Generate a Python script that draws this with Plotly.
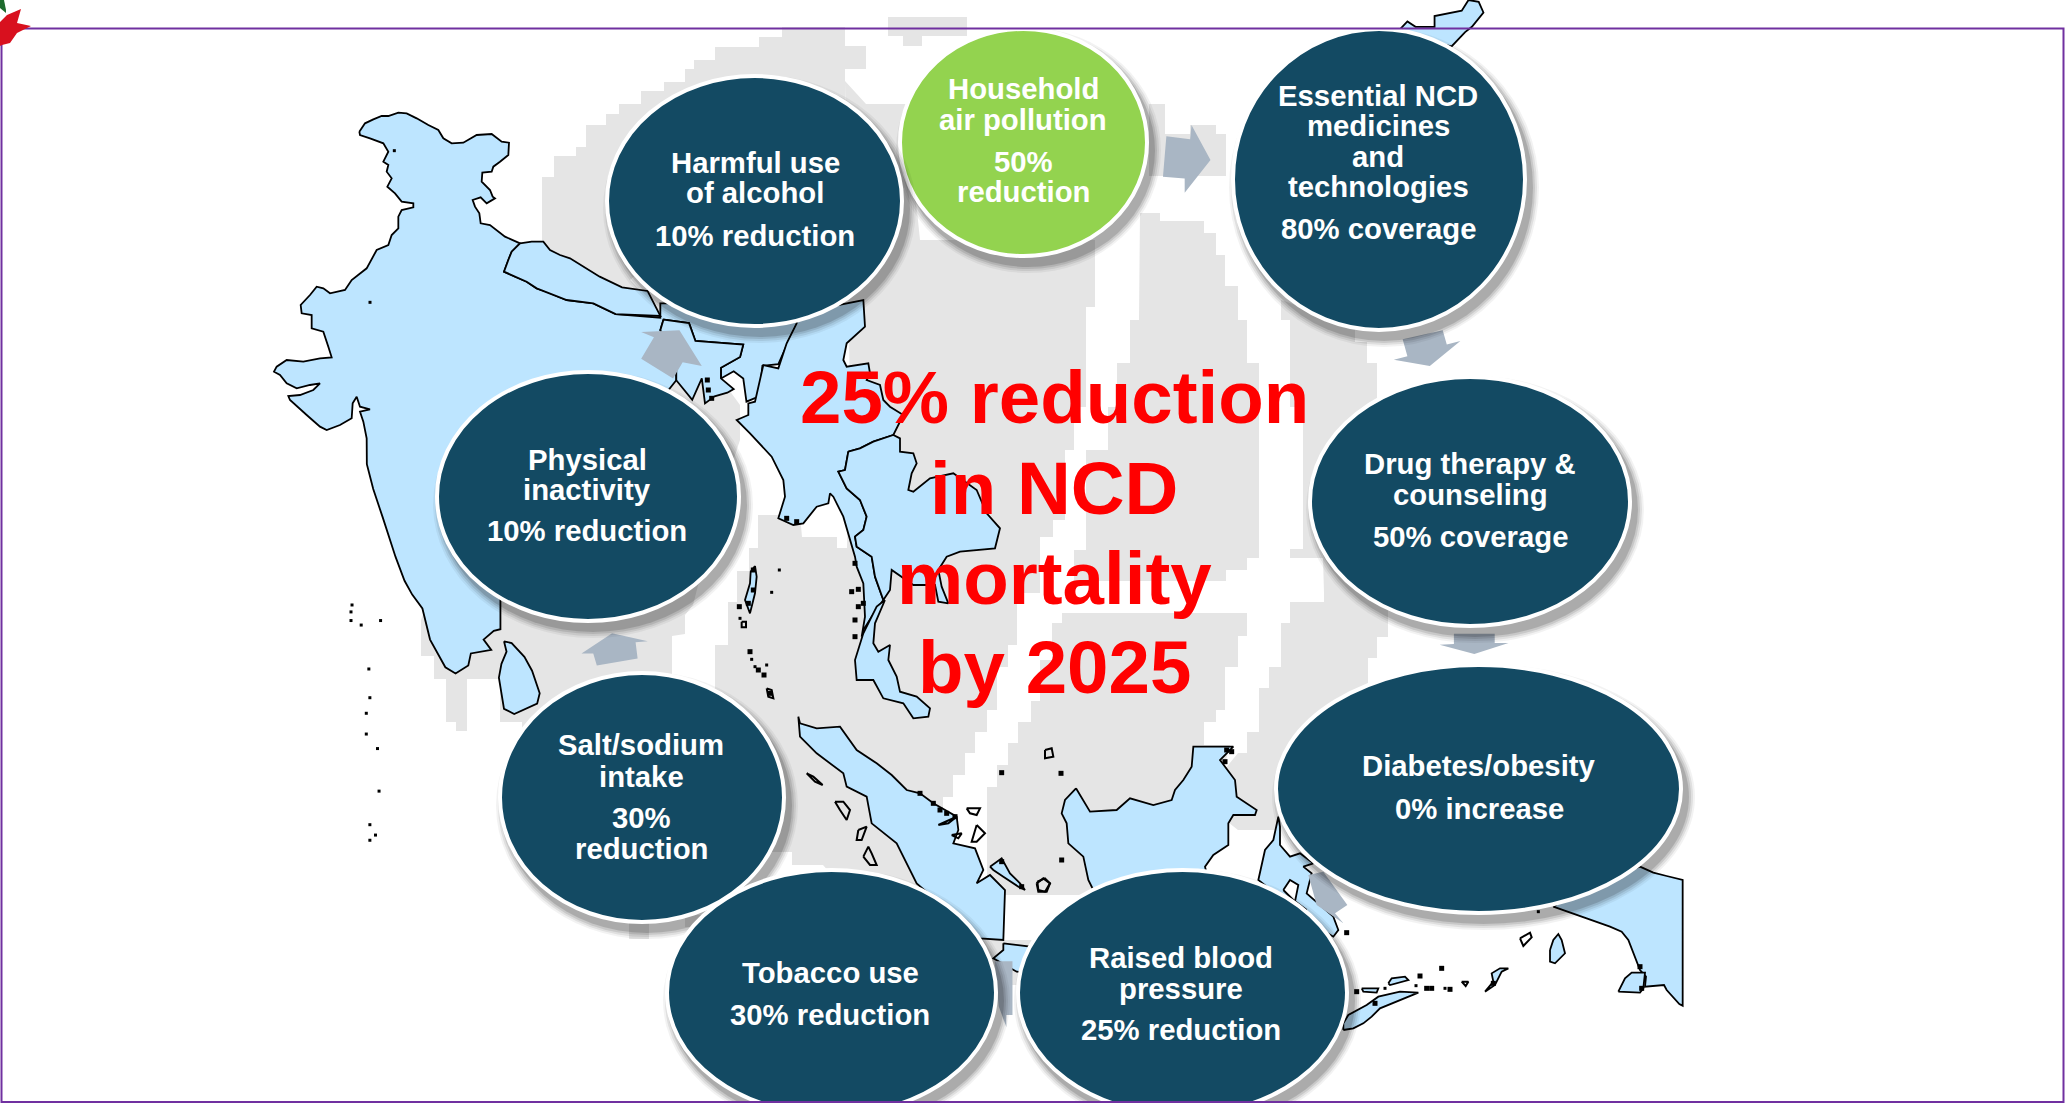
import plotly.graph_objects as go

# ---------- text content ----------
CENTRE_LINES = ["25% reduction", "in NCD", "mortality", "by 2025"]
HARMFUL = ["Harmful use", "of alcohol", "10% reduction"]
PHYSICAL = ["Physical", "inactivity", "10% reduction"]
HOUSEHOLD = ["Household", "air pollution", "50%", "reduction"]
ESSENTIAL = ["Essential NCD", "medicines", "and", "technologies", "80% coverage"]
DRUG = ["Drug therapy &", "counseling", "50% coverage"]
DIABETES = ["Diabetes/obesity", "0% increase"]
SALT = ["Salt/sodium", "intake", "30%", "reduction"]
TOBACCO = ["Tobacco use", "30% reduction"]
RAISED = ["Raised blood", "pressure", "25% reduction"]

# ---------- geometry ----------
# crop frames: (left, top, x scale, y scale) of the zoomed views used to read outlines
Z1 = (0, 0, 0.638, 0.357)
Z2 = (1000, 0, 0.679, 0.357)
Z3 = (300, 560, 0.51, 0.346)
Z4 = (1000, 560, 0.51, 0.346)
Z5 = (700, 300, 1 / 3, 1 / 3)
Z7 = (700, 600, 1 / 3, 1 / 3)
Z8 = (1000, 580, 1 / 3, 1 / 3)
ZI = (270, 110, 1 / 3, 1 / 3)
ZP = (1320, 850, 1 / 3, 1 / 3)
ZA = (720, 540, 1 / 3, 1 / 3)


def read(pts, z):
    return [(z[0] + x * z[2], z[1] + y * z[3]) for x, y in pts]


GREY_AREAS = [
    [(888,17),(967,17),(967,36),(922,36),(922,46),(903,46),(903,36),(888,36)],
    [(782,27),(845,27),(845,46),(866,46),(866,69),(845,69),(845,100),(606,300),(542,255),(542,177),(554,177),(554,156),
     (576,156),(576,147),(586,147),(586,125),(606,125),(606,114),(619,114),(619,104),(641,104),(641,91),(664,91),(664,82),
     (685,82),(685,69),(694,69),(694,60),(715,60),(715,47),(759,47),(759,37),(782,37)],
    [(542,255),(606,255),(606,278),(628,278),(700,350),(740,405),(740,440),(720,500),(693,605),(685,615),(685,634),(672,636),
     (672,700),(522,740),(522,722),(500,722),(500,679),(467,679),(467,731),(456,731),(456,722),(446,722),(446,679),(434,679),
     (434,656),(421,656),(421,620),(500,400)],
    [(845,81),(866,104),(906,104),(920,240),(1095,240),(1095,307),(1086,307),(1086,407),(1074,407),(1074,450),(1065,450),
     (1065,520),(1053,520),(1053,537),(1040,537),(1040,593),(1017,593),(1017,645),(1008,645),(1008,667),(997,667),(997,710),
     (987,710),(987,732),(975,732),(975,753),(965,753),(965,775),(953,775),(953,797),(943,797),(943,830),(960,880),(1004,945),
     (1004,985),(960,985),(880,930),(823,865),(792,865),(792,852),(750,852),(715,700),(715,645),(728,645),(728,602),(737,602),
     (737,571),(749,571),(749,548),(758,548),(758,515),(800,515),(802,537),(837,537),(837,548),(847,548),(850,400)],
    [(1140,213),(1160,213),(1160,221),(1204,221),(1204,233),(1216,233),(1216,255),(1225,255),(1225,286),(1238,286),(1238,320),
     (1247,320),(1247,363),(1259,363),(1259,558),(1247,558),(1247,570),(1226,570),(1226,581),(1074,581),(1074,550),(1086,550),
     (1086,450),(1108,450),(1108,407),(1117,407),(1117,363),(1130,363),(1130,320),(1139,320)],
    [(1281,300),(1355,325),(1355,342),(1367,342),(1367,363),(1377,363),(1377,420),(1400,500),(1388,600),(1388,637),(1377,637),
     (1377,658),(1368,658),(1368,700),(1277,830),(1238,830),(1200,800),(1238,753),(1247,753),(1247,732),(1259,732),(1259,688),
     (1269,688),(1269,667),(1281,667),(1281,623),(1290,623),(1290,602),(1324,602),(1324,593),(1323,558),(1290,558),(1290,549),
     (1303,549),(1303,407),(1290,407),(1290,320),(1281,320)],
    [(1062,613),(1247,613),(1247,636),(1238,636),(1238,667),(1225,667),(1225,710),(1216,710),(1216,722),(1204,722),(1204,745),
     (1230,745),(1190,895),(987,895),(987,787),(997,787),(997,765),(1008,765),(1008,743),(1018,743),(1018,722),(1031,722),
     (1031,701),(1040,701),(1040,660),(1052,660),(1052,623),(1062,623)],
    [(960,940),(1035,940),(1035,985),(960,985)],
    [(1149,104),(1165,104),(1165,134),(1190,134),(1190,125),(1216,125),(1216,134),(1226,134),(1226,176),(1165,176),(1149,176)],
    [(629,915),(649,915),(649,939),(629,939)],
    [(685,915),(703,915),(703,927),(685,927)],
]

INDIA = read([(268,65),(285,40),(310,28),(335,18),(355,18),(385,8),(410,10),(440,25),(475,45),(505,60),(520,85),(545,100),
              (580,98),(620,75),(665,72),(695,95),(717,98),(715,135),(690,155),(670,170),(665,185),(637,188),(635,215),
              (660,240),(668,260),(675,265),(650,280),(632,262),(608,270),(615,290),(628,310),(632,340),(660,345),(680,360),
              (705,380),(750,400),(725,425),(715,450),(702,485),(735,500),(770,515),(800,535),(830,545),(865,560),(890,570)], ZI) + \
        read([(930,850),(965,880),(1035,890),(1035,850),(1250,850),(1250,905),(1235,960),(1220,1020),(1195,1025),(1190,1110),
              (1170,1125),(1165,1060),(1150,1040),(1130,1060),(1130,1030),(1160,1000),(1165,965),(1090,955),(1080,905),
              (1040,895),(1035,925),(1060,1000),(1060,1065),(1000,1200),(800,1400),(800,1568)], Z1) + \
        read([(393,100),(393,200),(380,205),(360,230),(375,260),(335,270),(330,305),(305,328),(285,310),(270,270),(255,230),
              (240,140),(220,100),(205,60),(190,0)], Z3) + \
        read([(620,1560),(600,1450),(585,1370),(575,1300)], Z1) + \
        read([(290,985),(280,935),(270,905),(300,898),(270,890),(260,860),(248,880),(245,925),(210,945),(170,960),(150,950),
              (110,915),(60,870),(55,858),(90,855),(130,840),(150,820),(120,825),(80,835),(50,820),(30,795),(12,785),(20,770),
              (50,750),(100,755),(150,745),(185,742),(175,710),(160,665),(125,655),(125,615),(95,610),(92,585),(120,555),
              (140,530),(160,535),(180,550),(225,540),(245,510),(290,475),(310,440),(320,420),(355,405),(365,375),(385,355),
              (385,320),(395,300),(430,292),(430,280),(395,275),(375,250),(352,230),(365,205),(350,185),(355,165),(340,155),
              (355,125),(340,100),(300,85),(270,75)], ZI)
NEPAL = read([(750,400),(785,395),(820,395),(840,420),(870,435),(900,445)], ZI) + \
        read([(940,775),(975,805),(1015,815),(1035,885),(965,880),(930,850)], Z1) + \
        read([(890,570),(865,560),(830,545),(800,535),(770,515),(735,500),(702,485),(715,450),(725,425)], ZI)
BANGLADESH = read([(1040,895),(1080,905),(1090,955),(1165,965),(1160,1000),(1130,1030),(1130,1060),(1150,1090),(1140,1100),
                   (1120,1110),(1105,1130),(1100,1060),(1085,1120),(1060,1065),(1060,1000),(1035,925)], Z1)
MYANMAR = read([(290,40),(490,0),(495,80),(440,130),(430,180),(440,200),(505,190),(510,220),(500,240),(540,255),(550,300),
                (570,320),(610,345),(580,405),(520,425),(480,445),(445,455),(435,510),(415,515),(440,565),(480,600),(500,650),
                (490,690),(465,710),(470,740),(515,770),(525,830),(550,900),(515,950),(490,990),(485,1010),(495,950),(490,850),
                (470,800),(465,770),(430,650),(400,590),(390,580),(385,610),(350,620),(310,670),(280,675),(235,655),(255,590),
                (250,540),(215,470),(150,400),(110,360),(145,345),(145,310),(165,305),(190,195),(235,205),(260,130),(290,70)], Z5)
THAILAND = read([(445,455),(480,445),(520,425),(580,405),(600,415),(600,455),(640,460),(650,490),(635,520),(625,570),(640,575),
                 (690,535),(760,520),(830,570),(860,640),(900,685),(885,745),(780,755),(740,770),(715,810),(725,860),(745,910),
                 (715,905),(705,855),(640,855),(575,810),(570,870),(550,900),(525,830),(515,770),(470,740),(465,710),(490,690),
                 (500,650),(480,600),(440,565),(415,515),(435,510)], Z5)
MALAYA = read([(555,0),(525,70),(520,130),(535,155),(570,135),(565,180),(590,230),(600,275),(650,290),(690,325),(685,350),
               (640,355),(610,310),(550,295),(520,240),(470,240),(465,180),(490,100),(530,20)], Z7)
SUMATRA = read([(295,350),(300,370),(350,385),(420,380),(470,450),(530,490),(575,525),(620,570),(660,580),(700,610),(770,650),
                (775,690),(760,730),(825,745),(850,810),(830,850),(870,825),(915,870),(910,1020),(840,1015),(650,850),(590,730),
                (515,670),(500,590),(440,560),(430,520),(350,460),(300,410)], Z7)
JAVA = read([(910,1030),(990,1040),(1010,1120),(950,1115),(880,1075),(910,1050)], Z7)
BANGKA = read([(870,800),(905,775),(930,820),(960,850),(975,870),(955,860),(910,830),(880,810)], Z7)
BORNEO = read([(228,625),(270,695),(350,690),(390,655),(460,675),(515,660),(525,630),(550,600),(575,560),(580,500),(700,500),
               (660,540),(705,600),(710,650),(770,690),(765,705),(700,705),(685,730),(685,795),(640,825),(615,860),(620,880),
               (540,900),(280,930),(265,900),(250,830),(205,790),(200,730),(185,700),(195,660)], Z8)
SULAWESI = read([(835,710),(820,780),(795,810),(775,900),(850,960),(950,1040),(1000,1070),(1015,1050),(1000,1010),(920,940),
                 (935,880),(910,860),(940,850),(900,820),(870,830),(840,795),(840,740)], Z8)
PAPUA = read([(960,50),(1000,68),(1040,78),(1088,90),(1088,467),(1078,462),(1040,420),(1032,405),(975,410),(978,380),(960,360),
              (945,320),(925,270),(905,245),(870,230),(800,205),(730,180),(700,170),(800,100)], ZP)
ARU = read([(895,425),(915,385),(935,368),(975,368),(970,415),(960,428)], ZP)
TIMOR = read([(70,540),(100,535),(130,520),(155,500),(180,475),(240,450),(295,428),(240,425),(175,440),(140,465),(85,495),(70,520)], ZP)
FLORES = read([(125,415),(175,415),(170,428),(130,425)], ZP)
SUMBA = read([(205,400),(215,385),(255,380),(265,390),(210,405)], ZP)
BURU = read([(690,300),(700,270),(715,252),(725,270),(735,310),(705,340),(690,335)], ZP)
OBI = read([(495,425),(520,395),(515,370),(540,355),(565,355),(545,365),(525,405)], ZP)
NORTH_TIP = read([(590,80),(600,60),(612,75),(640,75),(640,45),(680,30),(690,0),(705,5),(712,35),(695,75),(685,90),(665,130),
                  (600,100)], Z2)
SRI_LANKA = read([(400,235),(415,240),(440,280),(455,320),(470,385),(465,415),(420,445),(400,430),(390,340),(395,300),(405,265)], Z3)
ANDAMAN = read([(105,78),(110,110),(105,160),(90,220),(75,180),(90,130),(92,95)], ZA)

BLUE_LANDS = [INDIA, NEPAL, BANGLADESH, MYANMAR, THAILAND, MALAYA, SUMATRA, JAVA, BANGKA, BORNEO, SULAWESI, PAPUA, ARU, TIMOR,
              FLORES, SUMBA, BURU, OBI, NORTH_TIP, SRI_LANKA, ANDAMAN]

HOLES = [read([(850,930),(870,900),(895,915),(885,965),(920,990),(880,960)], Z8)]

OPEN_ISLANDS = [
    read([(320,520),(340,530),(368,555),(345,545)], Z7),
    read([(405,605),(430,605),(450,630),(440,660),(420,630)], Z7),
    read([(475,690),(500,680),(485,720),(470,720)], Z7),
    read([(490,770),(505,740),(515,760),(530,795),(510,795)], Z7),
    read([(1010,850),(1030,835),(1050,850),(1040,875),(1015,875)], Z7),
    read([(800,625),(840,625),(830,645),(810,640)], Z7),
    read([(830,675),(855,700),(830,725),(815,725)], Z7),
    read([(715,675),(770,650),(745,670)], Z7),
    read([(755,705),(785,700),(775,715)], Z7),
    read([(135,510),(155,505),(160,530),(135,535)], Z8),
    read([(112,905),(135,895),(150,910),(135,935),(115,930)], Z8),
    read([(600,265),(630,248),(635,262),(610,288)], ZP),
    read([(425,395),(445,395),(437,408)], ZP),
    read([(65,245),(78,245),(78,262),(65,262)], ZA),
    read([(140,445),(155,450),(160,475),(145,470)], ZA),
]
DOTS = read([(102,130),(100,150),(100,175),(120,188),(158,175),(135,315),(137,398),(130,443),(130,503),(152,545),(155,668),
             (137,765),(148,795),(137,810)], Z3) + \
       read([(300,577),(373,122)], ZI) + \
       read([(178,90),(155,157),(60,235),(95,358),(140,375),(105,380)], ZA) + \
       read([(288,407),(375,415),(195,415),(655,185)], ZP)
BLOBS = read([(58,200),(90,335),(115,390),(132,405),(150,460),(395,155),(415,148),(430,190),(415,200),(405,240),(405,290),
              (405,70),(100,90),(100,150),(85,190)], ZA) + \
        read([(80,248),(365,355),(300,378),(320,415),(335,415),(390,418),(110,425),(165,460),(960,350),(965,415),(520,400)], ZP) + \
        read([(720,630),(740,640),(765,650),(700,610),(660,580),(1085,780),(905,518),(1083,520),(965,860),(905,785)], Z7) + \
        read([(680,510),(675,545),(695,515)], Z8) + \
        read([(260,655),(290,665),(25,270),(22,240),(35,295)], Z5)

ARROWS = [
    read([(245,382),(280,390),(282,350),(310,448),(272,540),(272,500),(240,495)], Z2),
    read([(593,950),(652,925),(658,965),(678,955),(633,1025),(580,1008),(600,998)], Z2),
    read([(890,213),(970,213),(970,240),(997,240),(930,272),(862,245),(890,243)], Z4),
    read([(925,885),(970,875),(1042,975),(1005,1000),(1030,1030),(950,975)], Z8),
    read([(1362,1160),(1397,1160),(1397,1315),(1385,1315),(1385,1350),(1370,1290)], Z3),
    read([(582,305),(575,270),(552,270),(612,212),(682,235),(658,238),(662,285)], Z3),
    read([(1005,930),(1065,925),(1100,1025),(1070,1015),(1055,1060),(1005,1005),(1025,945)], Z1),
]
RED_STAR = [(21,9),(17,23),(31,26),(17,33),(10,43),(2,45),(0,46),(0,22),(7,15)]
GREEN_LEAF = [(0,0),(4,0),(6,10),(6,13),(0,8)]

# ---------- styles ----------
NAVY, GREEN, WHITE = "#134A63", "#93D34F", "#FFFFFF"
GREY, BLUE, ARROW, RED, PURPLE = "#E5E5E5", "#BDE5FF", "#A9B6C4", "#FF0000", "#7030A0"
FONT = "Liberation Sans, Arial, sans-serif"

fig = go.Figure()


def area(pts, fill, line=None, width=0):
    xs = [p[0] for p in pts] + [pts[0][0]]
    ys = [p[1] for p in pts] + [pts[0][1]]
    fig.add_trace(go.Scatter(x=xs, y=ys, mode="lines", fill="toself", fillcolor=fill,
                             line=dict(color=line or fill, width=width), hoverinfo="skip", showlegend=False))


for pts in GREY_AREAS:
    area(pts, GREY)
for pts in BLUE_LANDS:
    area(pts, BLUE, "#000000", 1.8)
for pts in HOLES:
    area(pts, WHITE, "#000000", 1.8)
for pts in OPEN_ISLANDS:
    area(pts, "rgba(0,0,0,0)", "#000000", 2)
fig.add_trace(go.Scatter(x=[p[0] for p in DOTS], y=[p[1] for p in DOTS], mode="markers",
                         marker=dict(symbol="square", size=3, color="#000000"), hoverinfo="skip", showlegend=False))
fig.add_trace(go.Scatter(x=[p[0] for p in BLOBS], y=[p[1] for p in BLOBS], mode="markers",
                         marker=dict(symbol="square", size=5, color="#000000"), hoverinfo="skip", showlegend=False))
for pts in ARROWS:
    area(pts, ARROW)

# ---------- bubbles: draw order, outer box (left, right, top, bottom), fill, text ----------
BUBBLES = [
    (499, 785, 672, 923, NAVY, SALT, 641, [744, 776, 817, 848]),
    (666, 997, 869, 1116, NAVY, TOBACCO, 830, [972, 1014]),
    (1017, 1348, 869, 1116, NAVY, RAISED, 1181, [957, 988, 1029]),
    (1275, 1682, 664, 914, NAVY, DIABETES, 1479, [765, 808]),
    (1309, 1631, 376, 627, NAVY, DRUG, 1470, [463, 494, 536]),
    (1232, 1526, 28, 331, NAVY, ESSENTIAL, 1378, [95, 125, 156, 186, 228]),
    (436, 740, 371, 622, NAVY, PHYSICAL, 587, [459, 489, 530]),
    (899, 1148, 28, 257, GREEN, HOUSEHOLD, 1023, [88, 119, 161, 191]),
    (606, 903, 75, 327, NAVY, HARMFUL, 755, [162, 192, 235]),
]

shapes, notes = [], []
for x0, x1, y0, y1, fill, lines, cx, ys in BUBBLES:
    for grow, alpha in ((8, 0.05), (6, 0.08), (4, 0.1), (2, 0.14)):
        shapes.append(dict(type="circle", xref="x", yref="y", x0=x0 + 5 - grow, x1=x1 + 5 + grow,
                           y0=y0 + 8 - grow, y1=y1 + 8 + grow, fillcolor=f"rgba(0,0,0,{alpha})", line=dict(width=0)))
    shapes.append(dict(type="circle", xref="x", yref="y", x0=x0 + 1, x1=x1 - 1, y0=y0 + 1, y1=y1 - 1,
                       fillcolor=fill, line=dict(color=WHITE, width=4)))
    for line, y in zip(lines, ys):
        notes.append(dict(x=cx, y=y, text=f"<b>{line}</b>", showarrow=False, xref="x", yref="y",
                          xanchor="center", yanchor="middle",
                          font=dict(family=FONT, size=29.3, color=WHITE)))

for line, y in zip(CENTRE_LINES, [397, 488, 578, 667]):
    notes.append(dict(x=1054, y=y, text=f"<b>{line}</b>", showarrow=False, xref="x", yref="y",
                      xanchor="center", yanchor="middle", font=dict(family=FONT, size=74.5, color=RED)))

# purple slide frame, then the ornament in the corner above it
shapes.append(dict(type="rect", xref="x", yref="y", x0=1.5, x1=2063.5, y0=28.5, y1=1102,
                   line=dict(color=PURPLE, width=2), fillcolor="rgba(0,0,0,0)"))
for pts, colour in ((GREEN_LEAF, "#1E6B2E"), (RED_STAR, "#D8101E")):
    path = "M" + "L".join(f"{x},{y}" for x, y in pts) + "Z"
    shapes.append(dict(type="path", xref="x", yref="y", path=path, fillcolor=colour, line=dict(width=0)))

fig.update_layout(
    width=2065, height=1103, margin=dict(l=0, r=0, t=0, b=0), autosize=False,
    paper_bgcolor=WHITE, plot_bgcolor=WHITE, showlegend=False,
    xaxis=dict(range=[0, 2065], visible=False, fixedrange=True),
    yaxis=dict(range=[1103, 0], visible=False, fixedrange=True),
    shapes=shapes, annotations=notes,
)
fig.write_html("out.html", config=dict(displayModeBar=False),
               post_script="document.body.style.margin='0';document.documentElement.style.overflow='hidden';")
